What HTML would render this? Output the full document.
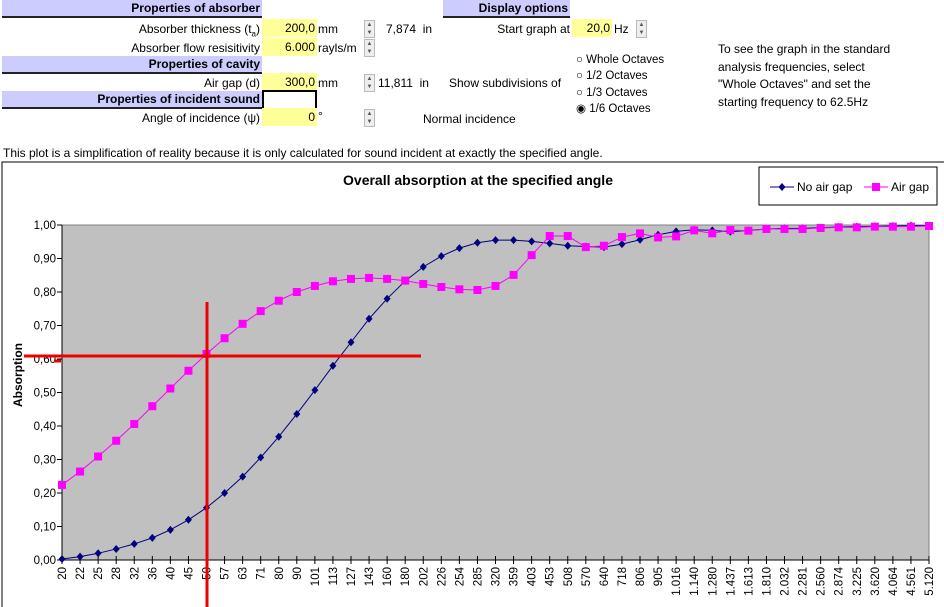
<!DOCTYPE html>
<html><head><meta charset="utf-8"><style>
body{margin:0;width:944px;height:607px;overflow:hidden;background:#fff;font-family:"Liberation Sans",Arial,sans-serif;font-size:12px;color:#000;position:relative}
.a{position:absolute;white-space:nowrap}
.hdr{position:absolute;background:#ccccff;border-bottom:2px solid #222;font-weight:bold;text-align:right;height:16px;line-height:16px;padding-right:2px;box-sizing:content-box}
.yel{position:absolute;background:#ffff99;text-align:right;height:18px;line-height:18px;padding-right:2px}
.spin{position:absolute;width:9px;height:16px;border:1px solid #bbb;background:#eee;font-size:6px;line-height:8px;text-align:center;color:#555}
.r{text-align:right}
</style></head><body>
<div class="hdr" style="left:2px;top:0;width:258px">Properties of absorber</div>
<div class="hdr" style="left:443px;top:0;width:125px">Display options</div>
<div class="a r" style="right:684px;top:22px">Absorber thickness (t<sub style="font-size:8px">a</sub>)</div>
<div class="yel" style="left:262px;top:19px;width:53px">200,0</div>
<div class="a" style="left:318px;top:22px">mm</div>
<div class="spin" style="left:364px;top:20px">▲<br>▼</div>
<div class="a" style="left:386px;top:22px">7,874 &nbsp;in</div>
<div class="a r" style="right:374px;top:22px">Start graph at</div>
<div class="yel" style="left:572px;top:19px;width:38px">20,0</div>
<div class="a" style="left:614px;top:22px">Hz</div>
<div class="spin" style="left:636px;top:20px">▲<br>▼</div>
<div class="a r" style="right:684px;top:41px">Absorber flow resisitivity</div>
<div class="yel" style="left:262px;top:38px;width:53px">6.000</div>
<div class="a" style="left:318px;top:41px">rayls/m</div>
<div class="spin" style="left:364px;top:39px">▲<br>▼</div>
<div class="hdr" style="left:2px;top:56px;width:258px">Properties of cavity</div>
<div class="a r" style="right:684px;top:76px">Air gap (d)</div>
<div class="yel" style="left:262px;top:73px;width:53px">300,0</div>
<div class="a" style="left:318px;top:76px">mm</div>
<div class="spin" style="left:364px;top:74px">▲<br>▼</div>
<div class="a" style="left:378px;top:76px">11,811 &nbsp;in</div>
<div class="a" style="left:449px;top:76px">Show subdivisions of</div>
<div class="a" style="left:576px;top:52px;line-height:16.3px;font-size:11.5px">○ Whole Octaves<br>○ 1/2 Octaves<br>○ 1/3 Octaves<br>◉ 1/6 Octaves</div>
<div class="a" style="left:718px;top:41px;line-height:17.5px">To see the graph in the standard<br>analysis frequencies, select<br>"Whole Octaves" and set the<br>starting frequency to 62.5Hz</div>
<div class="hdr" style="left:2px;top:91px;width:258px">Properties of incident sound</div>
<div class="a" style="left:262px;top:90px;width:51px;height:16px;border:2px solid #000"></div>
<div class="a r" style="right:684px;top:111px">Angle of incidence (ψ)</div>
<div class="yel" style="left:262px;top:108px;width:53px">0</div>
<div class="a" style="left:318px;top:109px">°</div>
<div class="spin" style="left:364px;top:109px">▲<br>▼</div>
<div class="a" style="left:423px;top:112px">Normal incidence</div>
<div class="a" style="left:3px;top:146px">This plot is a simplification of reality because it is only calculated for sound incident at exactly the specified angle.</div>
<svg id="ch" width="944" height="607" style="position:absolute;left:0;top:0" font-family="Liberation Sans, Arial, sans-serif"></svg>
<script>
const cats=["20","22","25","28","32","36","40","45","50","57","63","71","80","90","101","113","127","143","160","180","202","226","254","285","320","359","403","453","508","570","640","718","806","905","1.016","1.140","1.280","1.437","1.613","1.810","2.032","2.281","2.560","2.874","3.225","3.620","4.064","4.561","5.120"];
const noGap=[0.003,0.01,0.02,0.033,0.048,0.066,0.09,0.12,0.156,0.2,0.249,0.306,0.368,0.436,0.507,0.58,0.65,0.72,0.78,0.833,0.875,0.907,0.931,0.947,0.955,0.955,0.951,0.945,0.938,0.936,0.934,0.943,0.956,0.971,0.981,0.986,0.984,0.98,0.984,0.988,0.99,0.99,0.992,0.994,0.995,0.996,0.997,0.998,0.998];
const airGap=[0.224,0.264,0.309,0.356,0.406,0.459,0.512,0.565,0.615,0.662,0.705,0.743,0.774,0.8,0.818,0.832,0.839,0.842,0.839,0.834,0.824,0.815,0.808,0.806,0.818,0.851,0.91,0.967,0.967,0.934,0.938,0.964,0.975,0.963,0.966,0.984,0.975,0.985,0.983,0.988,0.988,0.988,0.991,0.993,0.993,0.995,0.995,0.995,0.997];
const yTicks=["0,00","0,10","0,20","0,30","0,40","0,50","0,60","0,70","0,80","0,90","1,00"];
const L=62,R=929,T=225,B=560,NS="http://www.w3.org/2000/svg";
const sx=i=>L+i*(R-L)/(cats.length-1), sy=v=>B-v*(B-T);
const svg=document.getElementById('ch');
function el(t,a,p){const e=document.createElementNS(NS,t);for(const k in a)e.setAttribute(k,a[k]);(p||svg).appendChild(e);return e;}
let e;
e=el('rect',{x:2,y:162,width:950,height:460,fill:'#fff',stroke:'#000','stroke-width':1});


e=el('rect',{x:L,y:T,width:R-L,height:B-T,fill:'#c0c0c0',stroke:'#808080'});


e=el('text',{x:478,y:185,'text-anchor':'middle','font-weight':'bold','font-size':14});e.textContent='Overall absorption at the specified angle';


el('line',{x1:L,y1:T,x2:L,y2:B,stroke:'#000'});
el('line',{x1:L,y1:B,x2:R,y2:B,stroke:'#000'});
yTicks.forEach((t,i)=>{const y=sy(i/10);el('line',{x1:L-5,y1:y,x2:L,y2:y,stroke:'#000'});
 e=el('text',{x:L-6,y:y+4,'text-anchor':'end','font-size':11.5,fill:'#000'});e.textContent=t;
 
 });
cats.forEach((c,i)=>{const x=sx(i);el('line',{x1:x,y1:B-4,x2:x,y2:B+4,stroke:'#000'});
 e=el('text',{transform:`translate(${x+4},${B+7}) rotate(-90)`,'text-anchor':'end','font-size':11.5});e.textContent=c;
 
 });
e=el('text',{transform:'translate(22,375) rotate(-90)','text-anchor':'middle','font-weight':'bold','font-size':12});e.textContent='Absorption';


function series(vals,col,name,sq){
 const g=el('g',{});
 
 
 el('polyline',{points:vals.map((v,i)=>sx(i)+','+sy(v)).join(' '),fill:'none',stroke:col,'stroke-width':1},g);
 vals.forEach((v,i)=>{const x=sx(i),y=sy(v);
  const m=sq?el('rect',{x:x-4,y:y-4,width:8,height:8,fill:col},g):el('polygon',{points:`${x},${y-4} ${x+3.5},${y} ${x},${y+4} ${x-3.5},${y}`,fill:col},g);
  
  });
}
series(noGap,'#000080','no-air-gap-series',false);
series(airGap,'#ff00ff','air-gap-series',true);
el('line',{x1:207,y1:302,x2:207,y2:607,stroke:'#ee0000','stroke-width':3});
el('line',{x1:24,y1:356,x2:421,y2:356,stroke:'#ee0000','stroke-width':3});
el('line',{x1:54,y1:361,x2:61,y2:361,stroke:'#ee0000','stroke-width':3});
const lg=el('g',{});


el('rect',{x:759,y:167,width:178,height:38,fill:'#fff',stroke:'#000'},lg);
el('line',{x1:770,y1:187,x2:794,y2:187,stroke:'#000080'},lg);
el('polygon',{points:'782,183 785.5,187 782,191 778.5,187',fill:'#000080'},lg);
e=el('text',{x:797,y:191,'font-size':12},lg);e.textContent='No air gap';
el('line',{x1:864,y1:187,x2:888,y2:187,stroke:'#ff00ff'},lg);
el('rect',{x:872,y:183,width:8,height:8,fill:'#ff00ff'},lg);
e=el('text',{x:891,y:191,'font-size':12},lg);e.textContent='Air gap';
</script>
</body></html>
